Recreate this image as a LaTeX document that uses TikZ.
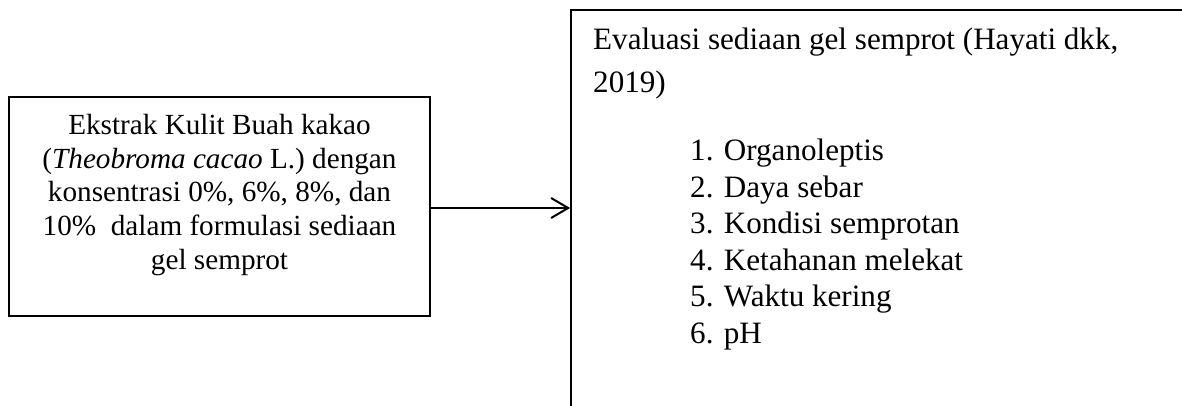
\documentclass[tikz,border=0pt]{standalone}
\usepackage{fontspec}
\setmainfont{Liberation Serif}
\usetikzlibrary{arrows.meta}
\tikzset{
  boxshape/.style={draw=black, line width=1.8pt, rectangle, inner sep=0pt},
  ltext/.style={anchor=base, inner sep=0pt, font=\fontsize{29.2}{34}\selectfont},
  rtext/.style={anchor=base west, inner sep=0pt, font=\fontsize{31.1}{37}\selectfont},
  conn/.style={line width=2.2pt, -{Straight Barb[length=17pt,width=20pt,line width=2pt]}}
}
\begin{document}
\begin{tikzpicture}[x=1pt,y=1pt]
\useasboundingbox (0,0) rectangle (1182,405);
\clip (0,0) rectangle (1182,405);
% left box
\node[boxshape, minimum width=421pt, minimum height=219pt] (lbox) at (219.5,198.5) {};
\node[ltext] (l1) at (219.5,271) {Ekstrak Kulit Buah kakao};
\node[ltext] (l2) at (219.5,237) {(\textit{Theobroma cacao} L.) dengan};
\node[ltext] (l3) at (219.5,204) {konsentrasi 0\%, 6\%, 8\%, dan};
\node[ltext] (l4) at (219.5,170) {10\%\ \ dalam formulasi sediaan};
\node[ltext] (l5) at (219.5,136) {gel semprot};
% right box (extends beyond the picture)
\node[boxshape, minimum width=729pt, minimum height=495pt] (rbox) at (935.5,147.5) {};
\node[rtext] (r1) at (593,355) {Evaluasi sediaan gel semprot (Hayati dkk,};
\node[rtext] (r2) at (593,312) {2019)};
\node[rtext] (i1) at (690,245) {1. Organoleptis};
\node[rtext] (i2) at (690,208) {2. Daya sebar};
\node[rtext] (i3) at (690,172) {3. Kondisi semprotan};
\node[rtext] (i4) at (690,135) {4. Ketahanan melekat};
\node[rtext] (i5) at (690,99) {5. Waktu kering};
\node[rtext] (i6) at (690,62) {6. pH};
% connector
\draw[conn] ([yshift=-1.5pt]lbox.east) -- ([yshift=-1.5pt]lbox.east -| rbox.west);
\end{tikzpicture}
\end{document}
